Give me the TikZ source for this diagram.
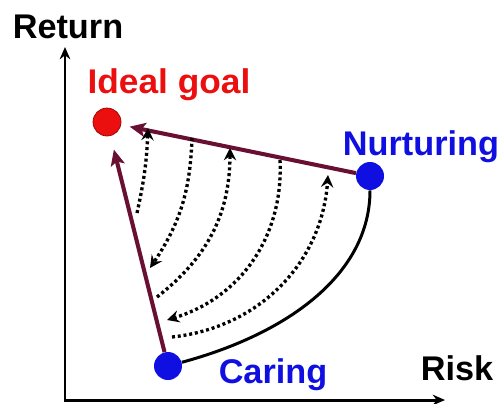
\documentclass[tikz,border=0pt]{standalone}
\usepackage{fontspec}
\setmainfont{Liberation Sans}
\usetikzlibrary{arrows.meta}
\definecolor{maroon}{RGB}{105,15,50}
\definecolor{goalred}{RGB}{235,15,15}
\definecolor{stratblue}{RGB}{15,15,225}

\begin{document}
\begin{tikzpicture}[x=0.02cm,y=0.02cm,
  dot/.style={circle,inner sep=0pt,minimum size=0.56cm},
  moveline/.style={maroon,line width=2.3pt,shorten >=5pt,-{Stealth[length=9pt,width=8pt,inset=2pt]}},
  swing/.style={line width=1.9pt,dash pattern=on 1.7pt off 1.6pt,-{Stealth[length=7pt,width=7pt,inset=2.5pt]}}]
\useasboundingbox (0,0) rectangle (503,403);
\fontsize{19.5}{23}\selectfont\bfseries

% axes
\coordinate (o) at (65,3);
\coordinate (ytip) at (65,356);
\coordinate (xtip) at (445,3);
\draw[line width=1.7pt,{Stealth[length=7pt,width=6pt]}-{Stealth[length=7pt,width=6pt]}] (ytip) -- (o) -- (xtip);
\node[anchor=base] (ret) at (68,364) {Return};
\node[anchor=base] (risk) at (457,23) {Risk};

% goal and strategies
\node[anchor=base,goalred,xscale=1.03] (goaltxt) at (169,310) {Ideal goal};
\node[anchor=base,stratblue] (nurtxt) at (421,248) {Nurturing};
\node[anchor=base,stratblue] (cartxt) at (273,20) {Caring};
\node[dot,fill=goalred,draw=red!60!black,thin] (ideal) at (107,281) {};
\node[dot,fill=stratblue] (nurt) at (370,227) {};
\node[dot,fill=stratblue] (car) at (168,37) {};

\draw[moveline] (nurt) -- (ideal);
\draw[moveline,shorten >=8pt] (car) -- (ideal);
\draw[line width=1.7pt] (car.15) .. controls (290,70) and (370,130) .. (nurt.south);

% swinging between the two
\coordinate (a1) at (137,190);
\coordinate (b1) at (148,275);
\coordinate (a2) at (192,265);
\coordinate (b2) at (150,135);
\coordinate (a3) at (157,106);
\coordinate (b3) at (230,255);
\coordinate (a4) at (280,243);
\coordinate (b4) at (167,83);
\coordinate (a5) at (172,66);
\coordinate (b5) at (328,228);
\draw[swing] (a1) to[bend right=5] (b1);
\draw[swing] (a2) to[bend left=16] (b2);
\draw[swing] (a3) to[bend right=26] (b3);
\draw[swing] (a4) to[bend left=38] (b4);
\draw[swing] (a5) to[bend right=40] (b5);
\end{tikzpicture}
\end{document}
